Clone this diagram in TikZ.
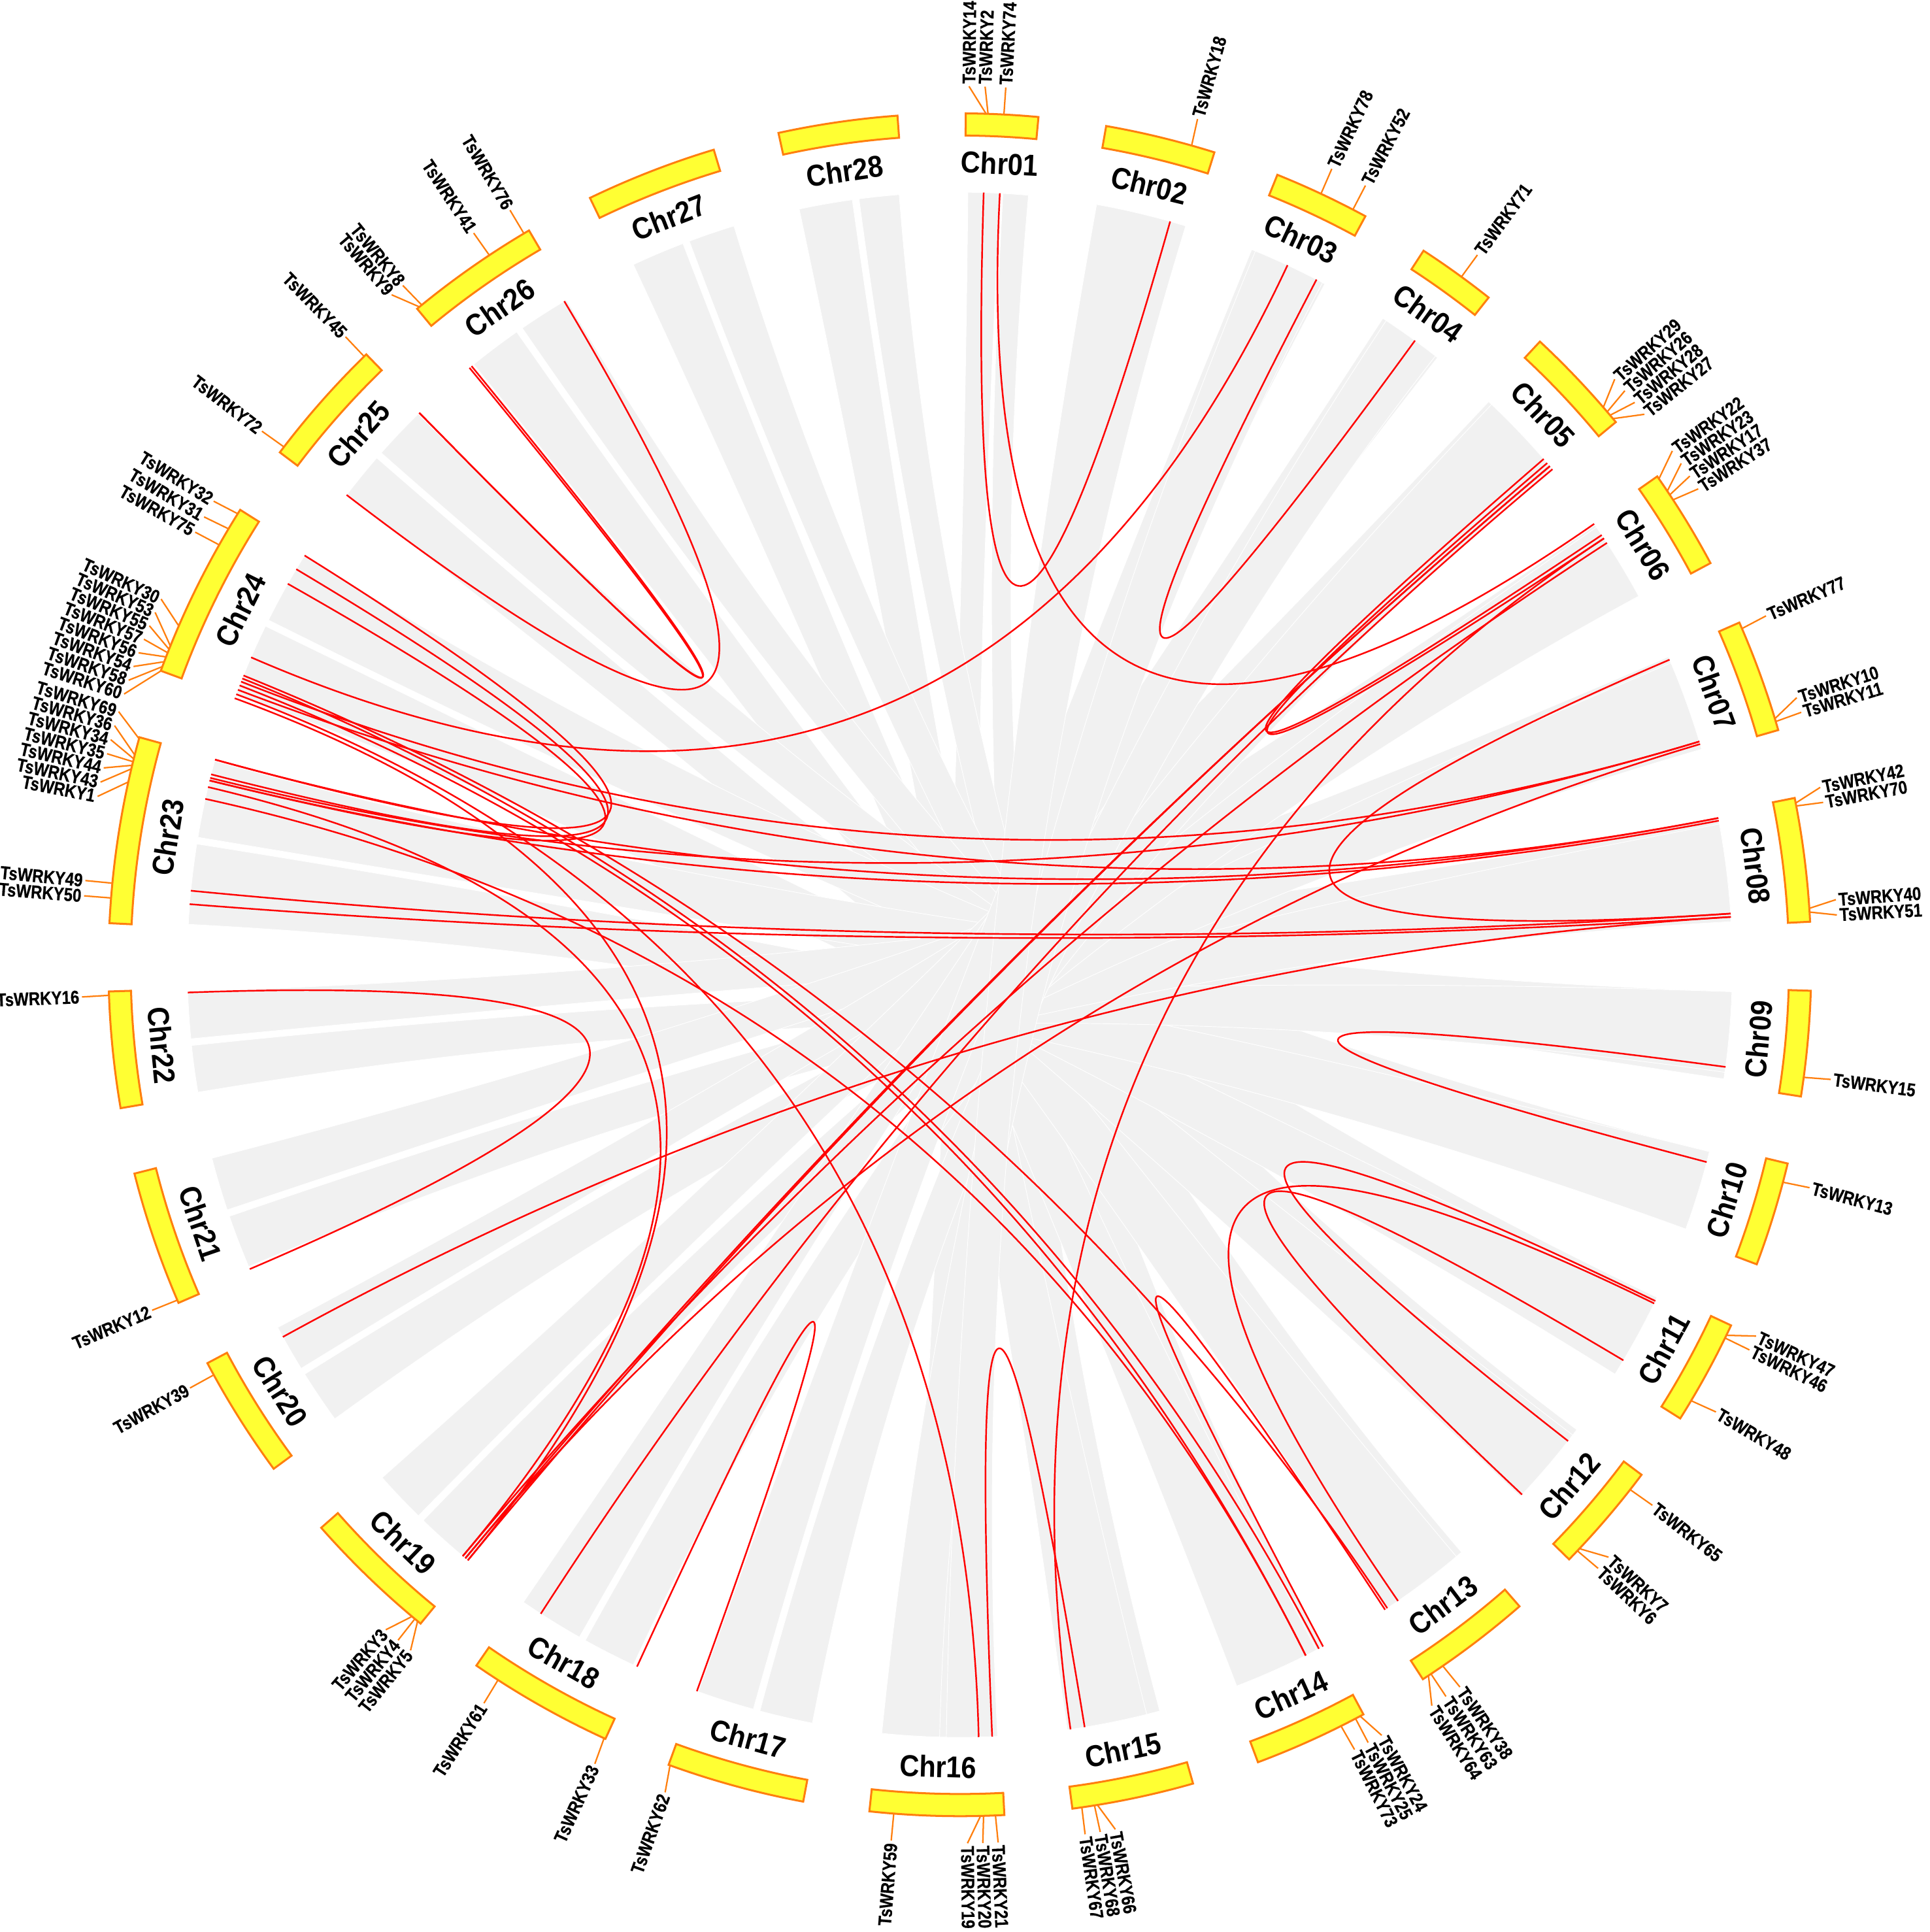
\documentclass[tikz,border=0pt]{standalone}
\usepackage{fontspec}
\usetikzlibrary{calc}
\newfontfamily\genefont[FakeStretch=0.85,FakeBold=0.6]{Liberation Sans Bold}
\newfontfamily\chrfont[FakeStretch=0.9]{Liberation Sans Bold}
\definecolor{boxyellow}{HTML}{FFFF33}
\definecolor{boxorange}{HTML}{FF7F0E}
\definecolor{ribgrey}{HTML}{F1F1F1}
\definecolor{linkred}{HTML}{FF0000}
\tikzset{
  chrboxstyle/.style={fill=boxyellow, draw=boxorange, line width=1.6pt, line join=miter},
  chrlabel/.style={font=\chrfont\fontsize{24.5}{25}\selectfont, inner sep=0pt},
  genelabel/.style={font=\genefont\fontsize{15}{15}\selectfont, inner sep=0pt},
  tickline/.style={draw=boxorange, line width=1.2pt},
  redlink/.style={draw=linkred, line width=1.3pt},
  ribbonstyle/.style={fill=ribgrey, draw=white, line width=0.5pt},
}
\newcommand{\chrbox}[4]{%
  \draw[chrboxstyle] ({90-#2}:673) arc[start angle={90-#2}, end angle={90-#3}, radius=673]
     -- ({90-#3}:691) arc[start angle={90-#3}, end angle={90-#2}, radius=691] -- cycle;
  \pgfmathsetmacro\chrmid{(#2+#3)/2}%
  \pgfmathsetmacro\chrrot{(\chrmid<90 || \chrmid>270) ? -\chrmid : 180-\chrmid}%
  \node[chrlabel, rotate=\chrrot] (#1) at ({90-\chrmid}:651) {#4};
}
\newcommand{\gene}[4]{%
  \coordinate (t#1) at ({90-#2}:691);
  \coordinate (e#1) at ({90-#3}:713);
  \coordinate (k#1) at ({90-#2}:627);
  \ifdim #3pt<180pt
    \node[genelabel, anchor=west, rotate={90-#3}] (n#1) at ({90-#3}:715) {#4};
  \else
    \node[genelabel, anchor=east, rotate={270-#3}] (n#1) at ({90-#3}:715) {#4};
  \fi
  \draw[tickline] (t#1) -- (e#1);
}
\newcommand{\glink}[2]{\draw[redlink] (k#1) .. controls ($(k#1)!0.6667!(O)$) and ($(k#2)!0.6667!(O)$) .. (k#2);}
\newcommand{\ribbon}[4]{%
  \fill[ribbonstyle] ({90-#1}:627) arc[start angle={90-#1}, end angle={90-#2}, radius=627]
    .. controls ({90-#2}:209) and ({90-#3}:209) .. ({90-#3}:627)
    arc[start angle={90-#3}, end angle={90-#4}, radius=627]
    .. controls ({90-#4}:209) and ({90-#1}:209) .. cycle;
}
\begin{document}
\begin{tikzpicture}[x=1pt,y=1pt]
\useasboundingbox (-779,-785) rectangle (787,783);
\fill[white] (-779,-785) rectangle (787,783);
\coordinate (O) at (0,0);
% ---------------- grey synteny ribbons ----------------
\ribbon{0.6}{3.0}{178}{184}
\ribbon{3.2}{5.1}{165}{171}
\ribbon{348}{352}{166}{172}
\ribbon{352.5}{355.5}{152}{158}
\ribbon{335}{339}{152.5}{159}
\ribbon{339.5}{343}{139.5}{146}
\ribbon{321}{325}{140}{146.5}
\ribbon{325.5}{329.4}{127}{133}
\ribbon{307.5}{311}{127.5}{133.5}
\ribbon{311.5}{315.5}{115.5}{121.5}
\ribbon{290.5}{296}{116}{122}
\ribbon{296.5}{302}{104}{110}
\ribbon{273}{279}{104}{110}
\ribbon{279.5}{285.3}{92}{98.5}
\ribbon{260.5}{264}{92}{98}
\ribbon{264.5}{268}{79}{86.5}
\ribbon{247}{251}{79.5}{86.8}
\ribbon{251.5}{255.5}{66.5}{73.5}
\ribbon{234}{238}{67}{73.8}
\ribbon{238.5}{242}{55.3}{61.5}
\ribbon{219.5}{224}{55.5}{61.5}
\ribbon{224.5}{228.4}{43.2}{50.2}
\ribbon{205}{209}{43.5}{50}
\ribbon{209.5}{214.4}{33.2}{38.2}
\ribbon{191}{195}{33.5}{38}
\ribbon{195.5}{199.8}{22.2}{28.2}
\ribbon{181.5}{185.8}{22.5}{28}
\ribbon{177.2}{181}{10.2}{17}
% ---------------- chromosomes ----------------
\chrbox{chr01}{0.4}{5.3}{Chr01}
\chrbox{chr02}{9.9}{17.4}{Chr02}
\chrbox{chr03}{21.9}{28.45}{Chr03}
\chrbox{chr04}{33.0}{38.4}{Chr04}
\chrbox{chr05}{42.95}{50.4}{Chr05}
\chrbox{chr06}{55.0}{61.85}{Chr06}
\chrbox{chr07}{66.3}{74.0}{Chr07}
\chrbox{chr08}{78.7}{87.1}{Chr08}
\chrbox{chr09}{91.75}{98.9}{Chr09}
\chrbox{chr10}{103.5}{110.6}{Chr10}
\chrbox{chr11}{115.06}{122.2}{Chr11}
\chrbox{chr12}{126.8}{134.3}{Chr12}
\chrbox{chr13}{138.9}{147.05}{Chr13}
\chrbox{chr14}{151.7}{159.5}{Chr14}
\chrbox{chr15}{164.1}{172.4}{Chr15}
\chrbox{chr16}{177.0}{186.1}{Chr16}
\chrbox{chr17}{190.6}{200.0}{Chr17}
\chrbox{chr18}{204.6}{214.6}{Chr18}
\chrbox{chr19}{219.3}{228.6}{Chr19}
\chrbox{chr20}{233.7}{242.1}{Chr20}
\chrbox{chr21}{246.6}{255.8}{Chr21}
\chrbox{chr22}{260.3}{268.2}{Chr22}
\chrbox{chr23}{272.8}{285.5}{Chr23}
\chrbox{chr24}{290.2}{302.3}{Chr24}
\chrbox{chr25}{307.0}{315.8}{Chr25}
\chrbox{chr26}{320.4}{329.6}{Chr26}
\chrbox{chr27}{334.25}{343.2}{Chr27}
\chrbox{chr28}{347.7}{355.8}{Chr28}
% ---------------- genes ----------------
\gene{14}{1.77}{0.6}{TsWRKY14}
\gene{2}{1.9}{1.65}{TsWRKY2}
\gene{74}{2.97}{3.0}{TsWRKY74}
\gene{18}{15.8}{15.7}{TsWRKY18}
\gene{78}{25.1}{25.05}{TsWRKY78}
\gene{52}{27.5}{27.5}{TsWRKY52}
\gene{71}{36.1}{36.1}{TsWRKY71}
\gene{29}{49.1}{48.2}{TsWRKY29}
\gene{26}{49.5}{49.2}{TsWRKY26}
\gene{28}{49.8}{50.2}{TsWRKY28}
\gene{27}{50.1}{51.2}{TsWRKY27}
\gene{22}{55.2}{54.2}{TsWRKY22}
\gene{23}{56.2}{55.2}{TsWRKY23}
\gene{17}{56.5}{56.2}{TsWRKY17}
\gene{37}{56.9}{57.2}{TsWRKY37}
\gene{77}{66.74}{66.6}{TsWRKY77}
\gene{10}{73.2}{72.3}{TsWRKY10}
\gene{11}{73.4}{73.3}{TsWRKY11}
\gene{42}{79.05}{78.35}{TsWRKY42}
\gene{70}{79.25}{79.35}{TsWRKY70}
\gene{40}{86.2}{85.75}{TsWRKY40}
\gene{51}{86.45}{86.75}{TsWRKY51}
\gene{15}{97.6}{97.5}{TsWRKY15}
\gene{13}{104.8}{104.7}{TsWRKY13}
\gene{47}{115.8}{115.0}{TsWRKY47}
\gene{46}{116.0}{116.0}{TsWRKY46}
\gene{48}{120.8}{120.6}{TsWRKY48}
\gene{65}{128.06}{127.97}{TsWRKY65}
\gene{7}{133.3}{132.4}{TsWRKY7}
\gene{6}{133.5}{133.4}{TsWRKY6}
\gene{38}{145.44}{145.3}{TsWRKY38}
\gene{63}{146.4}{146.4}{TsWRKY63}
\gene{64}{146.6}{147.5}{TsWRKY64}
\gene{24}{151.95}{151.3}{TsWRKY24}
\gene{25}{152.3}{152.3}{TsWRKY25}
\gene{73}{153.4}{153.3}{TsWRKY73}
\gene{66}{170.7}{169.8}{TsWRKY66}
\gene{68}{170.9}{170.8}{TsWRKY68}
\gene{67}{171.76}{171.8}{TsWRKY67}
\gene{21}{177.6}{177.5}{TsWRKY21}
\gene{20}{178.4}{178.5}{TsWRKY20}
\gene{19}{178.6}{179.5}{TsWRKY19}
\gene{59}{184.45}{184.48}{TsWRKY59}
\gene{62}{199.9}{199.6}{TsWRKY62}
\gene{33}{204.7}{204.55}{TsWRKY33}
\gene{61}{212.85}{212.8}{TsWRKY61}
\gene{5}{219.56}{218.7}{TsWRKY5}
\gene{4}{219.8}{219.75}{TsWRKY4}
\gene{3}{220.05}{220.8}{TsWRKY3}
\gene{39}{241.2}{241.2}{TsWRKY39}
\gene{12}{246.8}{246.84}{TsWRKY12}
\gene{16}{267.94}{267.9}{TsWRKY16}
\gene{50}{274.5}{274.5}{TsWRKY50}
\gene{49}{275.5}{275.5}{TsWRKY49}
\gene{1}{282.4}{281.05}{TsWRKY1}
\gene{43}{283.3}{282.0}{TsWRKY43}
\gene{44}{283.55}{282.95}{TsWRKY44}
\gene{35}{283.8}{283.9}{TsWRKY35}
\gene{34}{284.0}{284.85}{TsWRKY34}
\gene{36}{284.27}{285.8}{TsWRKY36}
\gene{69}{285.4}{286.75}{TsWRKY69}
\gene{60}{290.18}{287.95}{TsWRKY60}
\gene{58}{290.5}{288.9}{TsWRKY58}
\gene{54}{290.85}{289.85}{TsWRKY54}
\gene{56}{291.2}{290.8}{TsWRKY56}
\gene{57}{291.5}{291.75}{TsWRKY57}
\gene{55}{291.75}{292.7}{TsWRKY55}
\gene{53}{291.99}{293.65}{TsWRKY53}
\gene{30}{293.45}{294.6}{TsWRKY30}
\gene{75}{299.55}{299.5}{TsWRKY75}
\gene{31}{300.8}{300.65}{TsWRKY31}
\gene{32}{301.99}{301.85}{TsWRKY32}
\gene{72}{307.46}{307.4}{TsWRKY72}
\gene{45}{315.6}{315.63}{TsWRKY45}
\gene{9}{320.6}{319.7}{TsWRKY9}
\gene{8}{320.8}{320.65}{TsWRKY8}
\gene{41}{326.45}{326.4}{TsWRKY41}
\gene{76}{329.2}{329.2}{TsWRKY76}
% ---------------- red segmental duplication links ----------------
\glink{14}{18}
\glink{74}{22}
\glink{52}{71}
\glink{78}{30}
\glink{29}{23}
\glink{26}{17}
\glink{28}{4}
\glink{27}{61}
\glink{28}{5}
\glink{37}{3}
\glink{17}{67}
\glink{77}{40}
\glink{10}{34}
\glink{11}{4}
\glink{42}{69}
\glink{70}{35}
\glink{40}{49}
\glink{51}{50}
\glink{51}{39}
\glink{15}{13}
\glink{46}{38}
\glink{47}{65}
\glink{48}{7}
\glink{64}{24}
\glink{25}{55}
\glink{73}{56}
\glink{66}{21}
\glink{19}{58}
\glink{62}{33}
\glink{12}{16}
\glink{72}{76}
\glink{45}{9}
\glink{45}{8}
\glink{32}{69}
\glink{31}{36}
\glink{75}{35}
\glink{60}{5}
\glink{43}{3}
\glink{1}{73}
\glink{53}{63}
\glink{54}{42}
\glink{57}{10}
\end{tikzpicture}
\end{document}
